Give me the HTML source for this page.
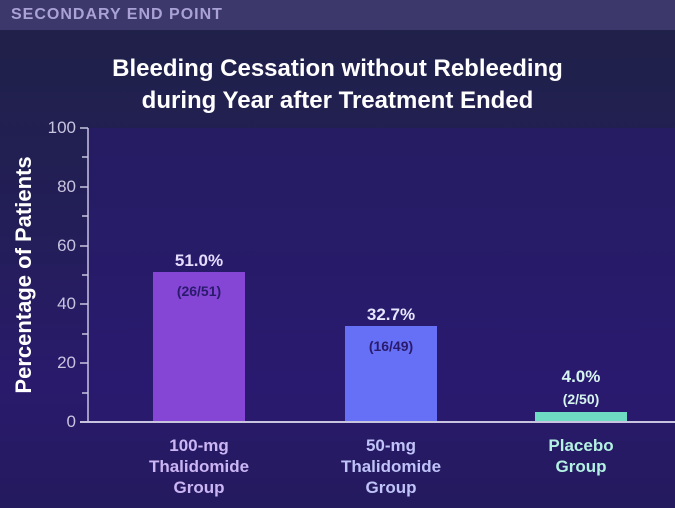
<!DOCTYPE html><html><head><style>
body{margin:0;width:675px;height:508px;overflow:hidden;background:linear-gradient(180deg,#1f2147 0%,#231e58 45%,#2a1a6c 75%,#241a5e 100%);font-family:"Liberation Sans",sans-serif;position:relative}
.hdr{position:absolute;left:0;top:0;width:675px;height:30px;background:#3d386c;color:#a9a2d6;font-weight:bold;font-size:16px;letter-spacing:1px;line-height:30px;padding-left:11px;box-sizing:border-box}
.t{position:absolute;left:0;width:675px;text-align:center;color:#fff;font-weight:bold;font-size:24px}
.a{position:absolute;color:#c8c4e0;font-size:17px;text-align:right;width:40px}
.v{position:absolute;text-align:center;width:120px;font-weight:bold}
</style></head><body>
<div class="hdr">SECONDARY END POINT</div>
<div class="t" style="top:55px">Bleeding Cessation without Rebleeding</div>
<div class="t" style="top:87px">during Year after Treatment Ended</div>
<svg width="675" height="508" style="position:absolute;left:0;top:0">
<rect x="88" y="128" width="587" height="294" fill="#2a1a72" opacity="0.6"/>
<g stroke="#c8c4e0" stroke-width="1.5" fill="none">
<line x1="88" y1="128" x2="88" y2="422"/>
<line x1="80" y1="128" x2="88" y2="128"/><line x1="80" y1="187" x2="88" y2="187"/><line x1="80" y1="246" x2="88" y2="246"/><line x1="80" y1="304" x2="88" y2="304"/><line x1="80" y1="363" x2="88" y2="363"/>
<line x1="82" y1="157" x2="88" y2="157"/><line x1="82" y1="216" x2="88" y2="216"/><line x1="82" y1="275" x2="88" y2="275"/><line x1="82" y1="334" x2="88" y2="334"/><line x1="82" y1="393" x2="88" y2="393"/>
</g>
<rect x="153" y="272" width="92" height="150" fill="#8546d6"/>
<rect x="345" y="326" width="92" height="96" fill="#6670f6"/>
<rect x="535" y="412" width="92" height="10" fill="#6ddcc2"/>
<line x1="80" y1="422" x2="675" y2="422" stroke="#c8c4e0" stroke-width="2"/>
<text x="31" y="275" transform="rotate(-90 31 275)" text-anchor="middle" fill="#fff" font-weight="bold" font-size="22" font-family="Liberation Sans">Percentage of Patients</text>
</svg>
<div class="a" style="left:36px;top:118px">100</div>
<div class="a" style="left:36px;top:177px">80</div>
<div class="a" style="left:36px;top:236px">60</div>
<div class="a" style="left:36px;top:294px">40</div>
<div class="a" style="left:36px;top:353px">20</div>
<div class="a" style="left:36px;top:412px">0</div>
<div class="v" style="left:139px;top:251px;color:#e6dcff;font-size:17px">51.0%</div>
<div class="v" style="left:139px;top:283px;color:#2a1a6c;font-size:14px">(26/51)</div>
<div class="v" style="left:331px;top:305px;color:#e6e6ff;font-size:17px">32.7%</div>
<div class="v" style="left:331px;top:338px;color:#2a1a6c;font-size:14px">(16/49)</div>
<div class="v" style="left:521px;top:367px;color:#d6f5ee;font-size:17px">4.0%</div>
<div class="v" style="left:521px;top:391px;color:#d6f5ee;font-size:14px">(2/50)</div>
<div class="v" style="left:139px;top:435px;color:#cbb6f3;font-size:17px;line-height:21px">100-mg<br>Thalidomide<br>Group</div>
<div class="v" style="left:331px;top:435px;color:#bfc3f7;font-size:17px;line-height:21px">50-mg<br>Thalidomide<br>Group</div>
<div class="v" style="left:521px;top:435px;color:#b3f2e2;font-size:17px;line-height:21px">Placebo<br>Group</div>
</body></html>
